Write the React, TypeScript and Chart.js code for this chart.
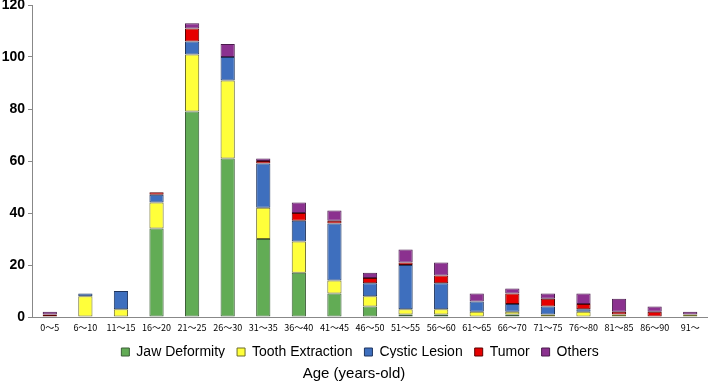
import React, { useEffect, useRef } from "react";
import { Chart, registerables } from "chart.js";

Chart.register(...registerables);

const categories = ["0～5","6～10","11～15","16～20","21～25","26～30","31～35","36～40","41～45","46～50","51～55","56～60","61～65","66～70","71～75","76～80","81～85","86～90","91～"];
const jawDeformity =   [0, 0, 0, 34, 79, 61, 30, 17,  9, 4,  1,  1, 0, 1, 0, 0, 0, 0, 0];
const toothExtraction = [0, 8, 3, 10, 22, 30, 12, 12,  5, 4,  2,  2, 2, 1, 1, 2, 1, 0, 1];
const cysticLesion =   [0, 1, 7,  3,  5,  9, 17,  8, 22, 5, 17, 10, 4, 3, 3, 1, 0, 0, 0];
const tumor =          [1, 0, 0,  1,  5,  0,  1,  3,  1, 2,  1,  3, 0, 4, 3, 2, 1, 2, 0];
const others =         [1, 0, 0,  0,  2,  5,  1,  4,  4, 2,  5,  5, 3, 2, 2, 4, 5, 2, 1];
const yTicks = [0, 20, 40, 60, 80, 100, 120];

const FONT = "'Liberation Sans', Arial, sans-serif";
const CJK = "'Noto Sans CJK JP', 'Liberation Sans', sans-serif";

const legendFix = {
  id: "legendFix",
  afterInit(chart: any) {
    const lg = chart.legend;
    if (!lg) return;
    const orig = lg.fit.bind(lg);
    lg.fit = function () {
      orig();
      this.height = 25;
    };
  },
  afterLayout(chart: any) {
    const lg = chart.legend;
    if (lg) {
      lg.top = chart.chartArea.bottom + 16;
      lg.bottom = lg.top + 25;
      lg.left += 6;
      lg.right += 6;
    }
  },
};

export default function App() {
  const ref = useRef<HTMLCanvasElement | null>(null);
  useEffect(() => {
    if (!ref.current) return;
    const mk = (label: string, data: number[], bg: string, bc: string) => ({
      label, data, backgroundColor: bg, borderColor: bc, borderWidth: 1, borderSkipped: false as const,
      categoryPercentage: 1, barPercentage: 0.4,
    });
    const chart = new Chart(ref.current, {
      type: "bar",
      data: {
        labels: categories,
        datasets: [
          mk("Jaw Deformity", jawDeformity, "#62ac55", "#3d5f38"),
          mk("Tooth Extraction", toothExtraction, "#ffff3a", "#6d6d2a"),
          mk("Cystic Lesion", cysticLesion, "#3e6fbe", "#1f355e"),
          mk("Tumor", tumor, "#e60000", "#5a0000"),
          mk("Others", others, "#8b318f", "#4a1b4c"),
        ],
      },
      plugins: [legendFix],
      options: {
        animation: false,
        responsive: false,
        maintainAspectRatio: false,
        layout: { padding: { top: 5, right: 0, left: 0, bottom: 0 } },
        plugins: {
          tooltip: { enabled: false },
          legend: {
            position: "bottom",
            labels: {
              color: "#000",
              font: { family: FONT, size: 14 },
              boxWidth: 8,
              boxHeight: 8,
              padding: 12,
            },
          },
          title: {
            display: true,
            position: "bottom",
            text: "Age (years-old)",
            color: "#000",
            font: { family: FONT, size: 15, weight: "normal" },
            padding: { top: 1, bottom: 0 },
          },
        },
        scales: {
          x: {
            stacked: true,
            afterFit: (s: any) => { s.height = 22; },
            grid: { display: false },
            border: { display: true, color: "#888" },
            ticks: { color: "#000", font: { family: CJK, size: 9, lineHeight: 1 }, maxRotation: 0, autoSkip: false, padding: -2 },
          },
          y: {
            stacked: true,
            min: 0,
            max: 120,
            afterFit: (s: any) => { s.width = 32; s.paddingTop = 0; },
            afterBuildTicks: (s: any) => { s.ticks = yTicks.map((v) => ({ value: v })); },
            grid: { display: true, drawOnChartArea: false, drawTicks: true, tickLength: 4, color: "#888" },
            border: { display: true, color: "#888" },
            ticks: { color: "#000", font: { family: FONT, size: 14, weight: "bold" }, padding: 3 },
          },
        },
      },
    });
    return () => chart.destroy();
  }, []);
  return (
    <div style={{ position: "fixed", left: 0, top: 0, width: 708, height: 383, background: "#fff" }}>
      <canvas ref={ref} width={708} height={383} style={{ width: 708, height: 383 }} />
    </div>
  );
}
